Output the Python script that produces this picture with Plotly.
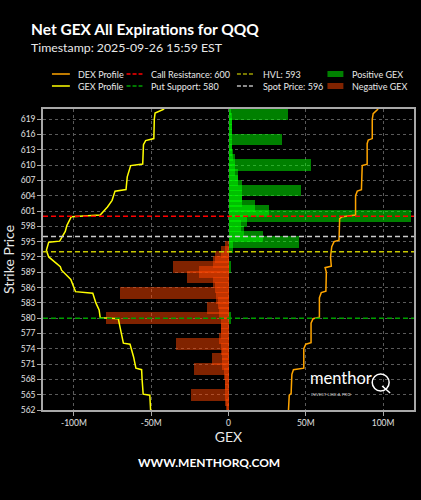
import plotly.graph_objects as go

# ---------------- data ----------------
strikes = list(range(562, 622))
positive_gex = [0, 0, 0, 0, 0, 0, 0, 0, 0, 0,          # 562-571
                0, 0, 0, 0, 0, 0, 0, 0, 1.3, 0,        # 572-581
                0, 0, 0, 0, 0, 0, 0, 0, 1.3, 0,        # 582-591
                0, 0, 3, 45.3, 22, 10, 8, 12, 117.8, 26,  # 592-601
                17, 9, 8.6, 46.8, 8.6, 6.4, 6.4, 4, 53.4, 4,  # 602-611
                3, 2.5, 2, 34.3, 2, 2, 2, 2, 38.6, 1.5]  # 612-621
negative_gex = [-1, -1.5, -2, -24, -2, -2, -2.5, -3, -22.5, -4,      # 562-571
                -10.7, -4, -5, -33.7, -6, -5, -5, -5, -79.2, -6,     # 572-581
                -14, -7, -8, -70.4, -9, -10, -27, -19.3, -35.6, -10, # 582-591
                -9, -5, -2, 0, 0, 0, 0, 0, 0, 0,                     # 592-601
                0, 0, 0, 0, 0, 0, 0, 0, 0, 0,                        # 602-611
                0, 0, 0, 0, 0, 0, 0, 0, 0, 0]                        # 612-621

gex_profile_price = [621, 620.2, 619, 615.2, 614.8, 614, 610.2, 609.9, 607.7, 605.2,
                     604.9, 603.1, 601.8, 600.2, 599.9, 598.2, 597, 596, 595.1, 594.9,
                     594, 593.3, 592, 590.1, 589.4, 588.4, 587.6, 585.2, 584.9, 583,
                     581.6, 580.1, 579.9, 578, 575.1, 574.9, 572.4, 570.2, 569.9, 568,
                     565.1, 564.9, 562]
gex_profile_value = [-41.6, -47.5, -48, -48.3, -53.6, -55, -55.5, -63.3, -65.5, -66.3,
                     -73.4, -75.3, -78.3, -83, -101.7, -104.5, -105.6, -107.7, -109.2, -116.3,
                     -117.4, -117.8, -116.3, -108.8, -108, -104.5, -102, -99, -87.8, -85.8,
                     -83.7, -83, -71.3, -70, -68, -63.7, -61.4, -59.9, -56.2, -55.9,
                     -55.2, -50.9, -50.4]

dex_profile_price = [621, 620.1, 619, 615.2, 614.9, 614.2, 610.2, 609.9, 605.2, 604.9,
                     604, 600.2, 599.9, 599.5, 595.3, 595, 594, 592, 590.2, 589.9,
                     589, 585.3, 585, 584, 580.2, 579.9, 579, 575.2, 574.9, 574,
                     570.2, 569.9, 569, 565.2, 564.9, 562]
dex_profile_value = [96.8, 93.6, 93, 93, 90.4, 89.7, 89.7, 86.5, 86, 83.3,
                     82.2, 82.2, 73.6, 71.9, 71.5, 68.3, 66.8, 66, 66.5, 62.5,
                     63.3, 63, 60, 58.8, 58.8, 54.7, 53.4, 53.4, 50, 48.7,
                     48.7, 42, 41, 40.5, 39.3, 38.8]

call_resistance = 600
put_support = 580
hvl_level = 593
spot_price = 596

x_tick_values = [-100, -50, 0, 50, 100]
x_tick_labels = ["-100M", "-50M", "0", "50M", "100M"]
y_tick_values = list(range(562, 620, 3))

# ---------------- layout geometry ----------------
W, H = 421, 500
ML, MR, MT, MB = 43, 5, 109, 90
PW, PH = W - ML - MR, H - MT - MB
FONT = "Lato"


def px_x(p):
    return (p - ML) / PW


def px_y(p):
    return (H - MB - p) / PH


POS_COLOR = "rgba(0,255,0,0.5)"
NEG_COLOR = "rgba(255,69,0,0.5)"

fig = go.Figure()
fig.add_trace(go.Bar(orientation="h", y=strikes, x=negative_gex, width=2.3,
                     marker=dict(color=NEG_COLOR, line=dict(width=0)),
                     name="Negative GEX", showlegend=False))
fig.add_trace(go.Bar(orientation="h", y=strikes, x=positive_gex, width=2.3,
                     marker=dict(color=POS_COLOR, line=dict(width=0)),
                     name="Positive GEX", showlegend=False))
fig.add_trace(go.Scatter(x=gex_profile_value, y=gex_profile_price, mode="lines",
                         line=dict(color="#ffff00", width=1.5), name="GEX Profile",
                         showlegend=False))
fig.add_trace(go.Scatter(x=dex_profile_value, y=dex_profile_price, mode="lines",
                         line=dict(color="#ffa500", width=1.5), name="DEX Profile",
                         showlegend=False))

levels = [(call_resistance, "#ff0000"), (put_support, "#00a000"),
          (hvl_level, "#c8c800"), (spot_price, "#cccccc")]
for lv, col in levels:
    fig.add_shape(type="line", xref="x domain", x0=0, x1=1, yref="y", y0=lv, y1=lv,
                  line=dict(color=col, width=1.5, dash="5px,3px"), layer="above")

# ---------------- manual legend ----------------
leg_font = dict(family=FONT, size=9, color="#e8e8e8")
rows = [74, 86]
legend_items = [
    (52, 70, 76, "line", "#ffa500", "solid", "DEX Profile", 0),
    (52, 70, 76, "line", "#ffff00", "solid", "GEX Profile", 1),
    (127, 143, 150, "line", "#ff0000", "4px,2px", f"Call Resistance: {call_resistance}", 0),
    (127, 143, 150, "line", "#00a000", "4px,2px", f"Put Support: {put_support}", 1),
    (238, 255, 262, "line", "#a0a000", "4px,2px", f"HVL: {hvl_level}", 0),
    (238, 255, 262, "line", "#bbbbbb", "4px,2px", f"Spot Price: {spot_price}", 1),
    (329, 345, 352, "rect", "#008000", None, "Positive GEX", 0),
    (329, 345, 352, "rect", "#802300", None, "Negative GEX", 1),
]
for x0, x1, xt, kind, col, dash, label, r in legend_items:
    yc = rows[r]
    if kind == "line":
        fig.add_shape(type="line", xref="paper", yref="paper",
                      x0=px_x(x0), x1=px_x(x1), y0=px_y(yc), y1=px_y(yc),
                      line=dict(color=col, width=1.5, dash=dash))
    else:
        fig.add_shape(type="rect", xref="paper", yref="paper",
                      x0=px_x(x0), x1=px_x(x1), y0=px_y(yc - 3), y1=px_y(yc + 3),
                      fillcolor=col, line=dict(width=0))
    fig.add_annotation(text=label, xref="paper", yref="paper", x=px_x(xt), y=px_y(yc),
                       xanchor="left", yanchor="middle", showarrow=False, font=leg_font)

# ---------------- titles / texts ----------------
fig.add_annotation(text="<b>Net GEX All Expirations for QQQ</b>", xref="paper", yref="paper",
                   x=px_x(29), y=px_y(29), xanchor="left", yanchor="middle", showarrow=False,
                   font=dict(family=FONT, size=15.5, color="#ffffff"))
fig.add_annotation(text="Timestamp: 2025-09-26 15:59 EST", xref="paper", yref="paper",
                   x=px_x(29), y=px_y(48), xanchor="left", yanchor="middle", showarrow=False,
                   font=dict(family=FONT, size=12.3, color="#e8e8e8"))
fig.add_annotation(text="<b>WWW.MENTHORQ.COM</b>", xref="paper", yref="paper",
                   x=px_x(210), y=px_y(462), xanchor="center", yanchor="middle",
                   showarrow=False, font=dict(family=FONT, size=12, color="#ffffff"))
# logo
fig.add_annotation(text="menthor", xref="paper", yref="paper", x=px_x(309), y=px_y(389.5),
                   xanchor="left", yanchor="bottom", showarrow=False,
                   font=dict(family=FONT, size=16.5, color="#ffffff"))
fig.add_annotation(text="INVEST LIKE A PRO", xref="paper", yref="paper", x=px_x(310),
                   y=px_y(389.5), xanchor="left", yanchor="top", showarrow=False,
                   font=dict(family=FONT, size=4.5, color="#cccccc"))
fig.add_shape(type="circle", xref="paper", yref="paper", x0=px_x(374), x1=px_x(391),
              y0=px_y(391), y1=px_y(374), line=dict(color="#ffffff", width=1.5))
fig.add_shape(type="line", xref="paper", yref="paper", x0=px_x(384), x1=px_x(392),
              y0=px_y(386), y1=px_y(393), line=dict(color="#ffffff", width=1.5))

axis_common = dict(showline=True, linecolor="#a8a8a8", linewidth=1.5, mirror=True,
                   ticks="outside", ticklen=4, tickcolor="#a8a8a8",
                   showgrid=True, gridcolor="#5a5a5a", griddash="dot", gridwidth=1,
                   zeroline=False,
                   tickfont=dict(family=FONT, size=8.5, color="#e0e0e0"))

fig.update_layout(
    width=W, height=H,
    margin=dict(l=ML, r=MR, t=MT, b=MB, pad=0),
    paper_bgcolor="#000000", plot_bgcolor="#000000",
    barmode="overlay", bargap=0,
    showlegend=False,
    xaxis=dict(range=[-120, 120], tickvals=x_tick_values, ticktext=x_tick_labels,
               title=dict(text="GEX", font=dict(family=FONT, size=14, color="#e8e8e8"),
                          standoff=4),
               **axis_common),
    yaxis=dict(range=[562, 621], tickvals=y_tick_values,
               title=dict(text="Strike Price", font=dict(family=FONT, size=14, color="#e8e8e8"),
                          standoff=4),
               **axis_common),
)

fig.write_html("out.html")
